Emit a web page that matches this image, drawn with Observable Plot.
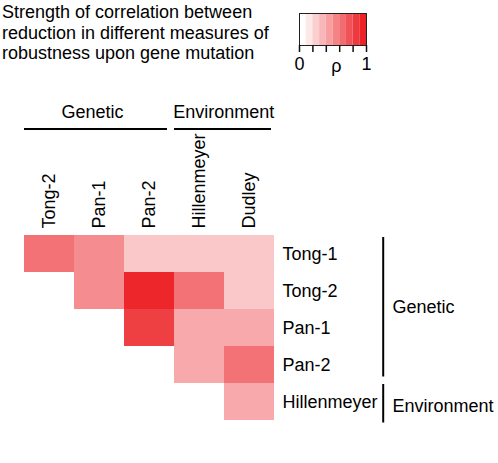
<!DOCTYPE html>
<html><head><meta charset="utf-8">
<script src="https://cdn.jsdelivr.net/npm/d3@7"></script>
<script src="https://cdn.jsdelivr.net/npm/@observablehq/plot@0.6"></script>
<style>
body{margin:0;background:#fff;}
#wrap{position:relative;width:498px;height:463px;font-family:"Liberation Sans",Arial,Helvetica,sans-serif;}
#title{position:absolute;left:2px;top:2px;font-size:18px;line-height:20.6px;color:#000;white-space:nowrap;}
#main{position:absolute;left:0;top:0;}
#legend{position:absolute;left:289px;top:0;}
</style></head><body>
<div id="wrap"><div id="main"></div><div id="title">Strength of correlation between<br>reduction in different measures of<br>robustness upon gene mutation</div><div id="legend"></div></div>
<script>
// Columns and rows of the triangular heatmap
const colNames = ["Tong-2", "Pan-1", "Pan-2", "Hillenmeyer", "Dudley"];
const rowNames = ["Tong-1", "Tong-2", "Pan-1", "Pan-2", "Hillenmeyer"];
// Correlation (rho) per row, one value per column (null = empty)
const rhoTong1 = [0.64, 0.52, 0.25, 0.25, 0.25];
const rhoTong2 = [null, 0.52, 0.98, 0.64, 0.25];
const rhoPan1 = [null, null, 0.87, 0.39, 0.39];
const rhoPan2 = [null, null, null, 0.39, 0.64];
const rhoHillenmeyer = [null, null, null, null, 0.39];
// Group brackets
const colGroups = [{name: "Genetic", from: "Tong-2", to: "Pan-2"}, {name: "Environment", from: "Hillenmeyer", to: "Dudley"}];
const rowGroups = [{name: "Genetic", from: "Tong-1", to: "Pan-2"}, {name: "Environment", from: "Hillenmeyer", to: "Hillenmeyer"}];
// Legend
const legendEdges = [0, 0.1, 0.2, 0.3, 0.4, 0.5, 0.6, 0.7, 0.8, 0.9, 1];
const legendLevels = [0, 0.11, 0.22, 0.33, 0.44, 0.56, 0.67, 0.78, 0.89, 1];
const legendTicks = [0, 0.2, 0.4, 0.6, 0.8, 1];
const legendTickLabels = [{v: 0, t: "0"}, {v: 1, t: "1"}];
const legendTitle = [{v: 0.55, t: "ρ"}];

const matrix = [rhoTong1, rhoTong2, rhoPan1, rhoPan2, rhoHillenmeyer];
const cells = rowNames.flatMap((r, i) => colNames.map((c, j) => ({row: r, col: c, rho: matrix[i][j]}))).filter(d => d.rho != null);

const font = '"Liberation Sans", Arial, Helvetica, sans-serif';
const colorOpts = {type: "linear", domain: [0, 1], range: ["#ffffff", "#ec2227"], interpolate: "rgb"};

const main = Plot.plot({
  width: 498, height: 463,
  marginLeft: 24, marginRight: 224, marginTop: 234, marginBottom: 42.3,
  x: {domain: colNames, axis: null, padding: 0},
  y: {domain: rowNames, axis: null, padding: 0},
  color: colorOpts,
  style: {fontFamily: font, fontSize: "18px", background: "transparent", color: "black"},
  marks: [
    Plot.cell(cells, {x: "col", y: "row", fill: "rho", inset: 0}),
    Plot.text(colNames, {x: d => d, frameAnchor: "top", dy: -6, rotate: -90, textAnchor: "start", lineAnchor: "middle", fontSize: 18, fill: "black"}),
    Plot.text(rowNames, {y: d => d, frameAnchor: "right", dx: 8, textAnchor: "start", fontSize: 18, fill: "black"}),
    // top group brackets
    Plot.ruleY([colGroups[0]], {x1: "from", x2: "to", y: () => rowNames[0], dy: -125, strokeWidth: 2, stroke: "black", insetRight: 7}),
    Plot.ruleY([colGroups[1]], {x1: "from", x2: "to", y: () => rowNames[0], dy: -125, strokeWidth: 2, stroke: "black", insetRight: 3}),
    Plot.text([colGroups[0]], {x: () => "Pan-1", y: () => rowNames[0], text: "name", dx: -7, dy: -141.7, fontSize: 18, fill: "black"}),
    Plot.text([colGroups[1]], {x: () => "Hillenmeyer", y: () => rowNames[0], text: "name", dx: 24.3, dy: -141.7, fontSize: 18, fill: "black"}),
    // right group brackets
    Plot.ruleX([rowGroups[0]], {y1: "from", y2: "to", x: () => colNames[4], dx: 133.7, strokeWidth: 2, stroke: "black", insetTop: 2, insetBottom: 6.5}),
    Plot.ruleX([rowGroups[1]], {y1: "from", y2: "to", x: () => colNames[4], dx: 133.7, strokeWidth: 2, stroke: "black", insetTop: 1, insetBottom: -2.5}),
    Plot.text([rowGroups[0]], {x: () => colNames[4], y: () => "Tong-2", text: "name", dx: 143, dy: 16.7, textAnchor: "start", fontSize: 18, fill: "black"}),
    Plot.text([rowGroups[1]], {x: () => colNames[4], y: () => "Hillenmeyer", text: "name", dx: 143, dy: 4.7, textAnchor: "start", fontSize: 18, fill: "black"})
  ]
});
document.getElementById("main").appendChild(main);

const stripes = legendLevels.map((lv, k) => ({x1: legendEdges[k], x2: legendEdges[k + 1], lv}));
const legend = Plot.plot({
  width: 100, height: 90,
  marginLeft: 10, marginRight: 23, marginTop: 13, marginBottom: 45,
  x: {domain: [0, 1], axis: null},
  y: {axis: null},
  color: colorOpts,
  style: {fontFamily: font, fontSize: "18px", background: "transparent", color: "black", overflow: "visible"},
  marks: [
    Plot.rect(stripes, {x1: "x1", x2: "x2", fill: "lv"}),
    Plot.frame({stroke: "#222", strokeWidth: 1}),
    Plot.ruleX(legendTicks, {x: d => d, insetTop: 32, insetBottom: -7, stroke: "#111", strokeWidth: 1.5}),
    Plot.text(legendTickLabels, {x: "v", text: "t", frameAnchor: "bottom", dy: 24.6, fontSize: 18, fill: "black"}),
    Plot.text(legendTitle, {x: "v", text: "t", frameAnchor: "bottom", dy: 26.5, fontSize: 18, fill: "black"})
  ]
});
document.getElementById("legend").appendChild(legend);
</script>
</body></html>
